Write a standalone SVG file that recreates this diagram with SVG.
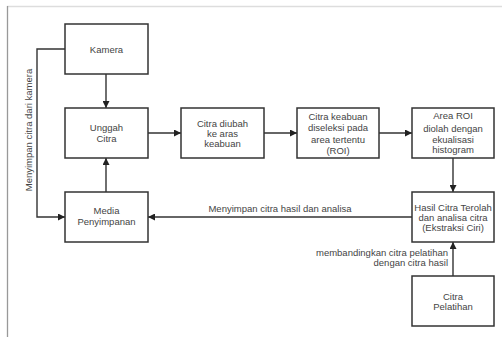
<svg xmlns="http://www.w3.org/2000/svg" width="502" height="337" viewBox="0 0 502 337">
<style>
  .box { fill: #fff; stroke: #333; stroke-width: 1.5; }
  .t { font-family: "Liberation Sans", Arial, sans-serif; font-size: 9.5px; fill: #444; text-anchor: middle; }
  .lbl { font-family: "Liberation Sans", Arial, sans-serif; font-size: 9.5px; fill: #444; }
  .c { fill: none; stroke: #333; stroke-width: 1.4; }
</style>
<defs>
  <marker id="ah" viewBox="0 0 10 10" refX="10" refY="5" markerWidth="8" markerHeight="7" markerUnits="userSpaceOnUse" orient="auto">
    <path d="M0,0 L10,5 L0,10 z" fill="#222"/>
  </marker>
</defs>
<rect width="502" height="337" fill="#fff"/>
<line x1="7" y1="6.5" x2="502" y2="6.5" stroke="#ddd" stroke-width="1.5"/>
<line x1="7.5" y1="6" x2="7.5" y2="337" stroke="#999" stroke-width="1.3"/>

<g id="connectors">
  <line class="c" x1="106" y1="74" x2="106" y2="108" marker-end="url(#ah)"/>
  <line class="c" x1="106" y1="192" x2="106" y2="158" marker-end="url(#ah)"/>
  <line class="c" x1="148" y1="133" x2="181" y2="133" marker-end="url(#ah)"/>
  <line class="c" x1="264" y1="133" x2="297" y2="133" marker-end="url(#ah)"/>
  <line class="c" x1="379" y1="133" x2="412" y2="133" marker-end="url(#ah)"/>
  <line class="c" x1="453" y1="158" x2="453" y2="192" marker-end="url(#ah)"/>
  <line class="c" x1="412" y1="217" x2="148" y2="217" marker-end="url(#ah)"/>
  <line class="c" x1="453" y1="276" x2="453" y2="242" marker-end="url(#ah)"/>
  <polyline class="c" points="65,49 37,49 37,217 65,217" marker-end="url(#ah)"/>
  <text class="lbl" transform="translate(32,130) rotate(-90)" text-anchor="middle">Menyimpan citra dari kamera</text>
  <text class="lbl" x="280" y="212" text-anchor="middle">Menyimpan citra hasil dan analisa</text>
  <text class="lbl" x="448" y="256" text-anchor="end">membandingkan citra pelatihan</text>
  <text class="lbl" x="448" y="265.5" text-anchor="end">dengan citra hasil</text>
</g>

<g id="kamera">
  <rect class="box" x="65" y="24" width="83" height="50"/>
  <text class="t" x="106.5" y="52.5">Kamera</text>
</g>
<g id="unggah">
  <rect class="box" x="65" y="108" width="83" height="50"/>
  <text class="t" x="106.5" y="131">Unggah</text>
  <text class="t" x="106.5" y="141.5">Citra</text>
</g>
<g id="media">
  <rect class="box" x="65" y="192" width="83" height="50"/>
  <text class="t" x="106.5" y="214">Media</text>
  <text class="t" x="106.5" y="225">Penyimpanan</text>
</g>
<g id="diubah">
  <rect class="box" x="181" y="108" width="83" height="50"/>
  <text class="t" x="222.5" y="126.5">Citra diubah</text>
  <text class="t" x="222.5" y="136.5">ke aras</text>
  <text class="t" x="222.5" y="146.5">keabuan</text>
</g>
<g id="keabuan">
  <rect class="box" x="297" y="108" width="82" height="50"/>
  <text class="t" x="338" y="119.5">Citra keabuan</text>
  <text class="t" x="338" y="131">diseleksi pada</text>
  <text class="t" x="338" y="142.5">area tertentu</text>
  <text class="t" x="338" y="154">(ROI)</text>
</g>
<g id="roi">
  <rect class="box" x="412" y="108" width="82" height="50"/>
  <text class="t" x="453" y="119">Area ROI</text>
  <text class="t" x="453" y="131.5">diolah dengan</text>
  <text class="t" x="453" y="142.5">ekualisasi</text>
  <text class="t" x="453" y="153">histogram</text>
</g>
<g id="hasil">
  <rect class="box" x="412" y="192" width="82" height="50"/>
  <text class="t" x="453" y="210.5">Hasil Citra Terolah</text>
  <text class="t" x="453" y="220.5">dan analisa citra</text>
  <text class="t" x="453" y="230.5">(Ekstraksi Ciri)</text>
</g>
<g id="pelatihan">
  <rect class="box" x="412" y="276" width="82" height="50"/>
  <text class="t" x="453" y="300">Citra</text>
  <text class="t" x="453" y="310">Pelatihan</text>
</g>
</svg>
